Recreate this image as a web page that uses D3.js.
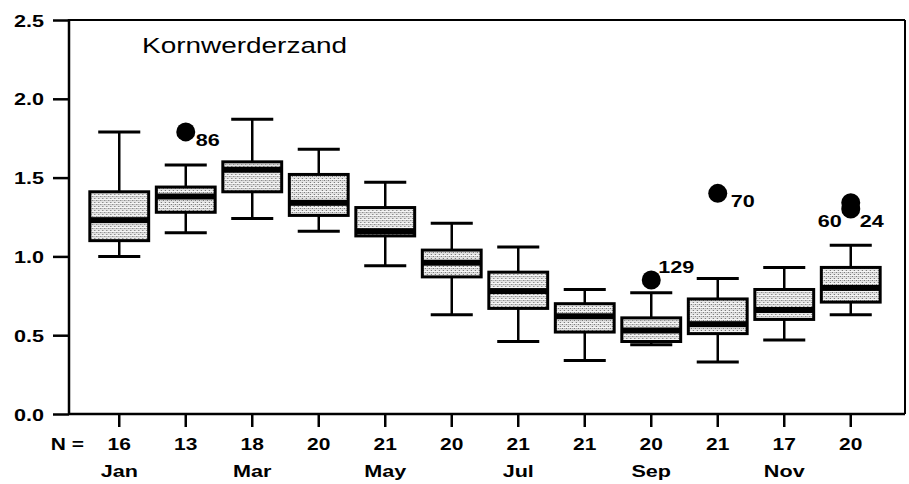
<!DOCTYPE html>
<html>
<head>
<meta charset="utf-8">
<script src="https://cdn.jsdelivr.net/npm/d3@7"></script>
<style>
  html, body { margin: 0; padding: 0; background: #fff; }
  svg { display: block; }
  text { font-family: "Liberation Sans", Arial, sans-serif; fill: #000; }
</style>
</head>
<body>
<svg id="chart" width="909" height="484"></svg>
<script>
// ---- data ----
const months      = ["Jan","Feb","Mar","Apr","May","Jun","Jul","Aug","Sep","Oct","Nov","Dec"];
const monthLabels = ["Jan","","Mar","","May","","Jul","","Sep","","Nov",""];
const nCounts     = [16, 13, 18, 20, 21, 20, 21, 21, 20, 21, 17, 20];
const whiskerLow  = [1.00, 1.15, 1.24, 1.16, 0.94, 0.63, 0.46, 0.34, 0.44, 0.33, 0.47, 0.63];
const q1          = [1.10, 1.28, 1.41, 1.26, 1.13, 0.87, 0.67, 0.52, 0.46, 0.51, 0.60, 0.71];
const medians     = [1.23, 1.38, 1.55, 1.34, 1.16, 0.96, 0.78, 0.62, 0.53, 0.57, 0.66, 0.80];
const q3          = [1.41, 1.44, 1.60, 1.52, 1.31, 1.04, 0.90, 0.70, 0.61, 0.73, 0.79, 0.93];
const whiskerHigh = [1.79, 1.58, 1.87, 1.68, 1.47, 1.21, 1.06, 0.79, 0.77, 0.86, 0.93, 1.07];
const outlierMonth = ["Feb", "Sep", "Oct", "Dec", "Dec"];
const outlierValue = [1.79, 0.85, 1.40, 1.34, 1.30];
const outlierLabel = ["86", "129", "70", "24", "60"];
const yTicks = [0, 0.5, 1.0, 1.5, 2.0, 2.5];
const title = "Kornwerderzand";

(function () {
// ---- layout ----
const svg = d3.select("#chart");
const pLeft = 69, pRight = 905, pTop = 20, pBottom = 414;
const STRETCH = 1.27;

const x = d3.scaleBand().domain(months).range([86, 884]).paddingInner(0.07).paddingOuter(0.035);
const y = d3.scaleLinear().domain([0, 2.5]).range([pBottom, pTop]);

// stipple pattern
const defs = svg.append("defs");
const pat = defs.append("pattern").attr("id", "stip").attr("patternUnits", "userSpaceOnUse")
  .attr("width", 4).attr("height", 4);
pat.append("rect").attr("width", 4).attr("height", 4).attr("fill", "#e4e4e4");
pat.append("rect").attr("x", 0).attr("y", 0).attr("width", 1).attr("height", 1).attr("fill", "#666");
pat.append("rect").attr("x", 2).attr("y", 2).attr("width", 1).attr("height", 1).attr("fill", "#666");
pat.append("rect").attr("x", 2).attr("y", 0).attr("width", 1).attr("height", 1).attr("fill", "#aaa");
pat.append("rect").attr("x", 0).attr("y", 3).attr("width", 4).attr("height", 1).attr("fill", "#f6f6f6");

// frame
svg.append("line").attr("x1", pLeft).attr("x2", pRight).attr("y1", pTop).attr("y2", pTop)
  .attr("stroke", "#000").attr("stroke-width", 2);
svg.append("line").attr("x1", pRight).attr("x2", pRight).attr("y1", pTop).attr("y2", pBottom)
  .attr("stroke", "#000").attr("stroke-width", 2);

// y axis
const yAxis = svg.append("g").attr("transform", `translate(${pLeft},0)`)
  .call(d3.axisLeft(y).tickValues(yTicks).tickFormat(d3.format(".1f")).tickSize(16).tickPadding(9));
yAxis.select(".domain").remove();
yAxis.selectAll(".tick line").attr("stroke", "#000").attr("stroke-width", 2.5);
yAxis.selectAll(".tick text").attr("font-size", 17).attr("font-weight", "bold")
  .attr("font-family", "Liberation Sans, Arial, sans-serif").attr("dy", "0.36em");
svg.append("line").attr("x1", pLeft).attr("x2", pLeft).attr("y1", pTop - 1).attr("y2", pBottom + 1)
  .attr("stroke", "#000").attr("stroke-width", 2.5);

// x axis (N counts)
const xAxis = svg.append("g").attr("transform", `translate(0,${pBottom})`)
  .call(d3.axisBottom(x).tickSize(13).tickPadding(11).tickFormat((d, i) => nCounts[i]));
xAxis.select(".domain").remove();
xAxis.selectAll(".tick line").attr("stroke", "#000").attr("stroke-width", 2.5);
xAxis.selectAll(".tick text").attr("font-size", 16.5).attr("font-weight", "bold")
  .attr("font-family", "Liberation Sans, Arial, sans-serif");
svg.append("line").attr("x1", pLeft).attr("x2", pRight).attr("y1", pBottom).attr("y2", pBottom)
  .attr("stroke", "#000").attr("stroke-width", 2.5);

// month labels row
const mAxis = svg.append("g").attr("transform", `translate(0,${pBottom + 43})`)
  .call(d3.axisBottom(x).tickSize(0).tickPadding(8).tickFormat((d, i) => monthLabels[i]));
mAxis.select(".domain").remove();
mAxis.selectAll(".tick text").attr("font-size", 17).attr("font-weight", "bold")
  .attr("font-family", "Liberation Sans, Arial, sans-serif");

svg.append("text").attr("x", 84).attr("y", 450).attr("text-anchor", "end")
  .attr("font-size", 16.5).attr("font-weight", "bold").text("N =");

// title
svg.append("text").attr("x", 142).attr("y", 53).attr("font-size", 22).text(title);

// boxes
const bw = x.bandwidth();
const boxes = svg.append("g").selectAll("g").data(months).join("g")
  .attr("transform", d => `translate(${x(d)},0)`);
const cx = bw / 2, capW = bw * 0.68;
boxes.append("line").attr("x1", cx).attr("x2", cx)
  .attr("y1", (d, i) => y(whiskerHigh[i])).attr("y2", (d, i) => y(q3[i]))
  .attr("stroke", "#000").attr("stroke-width", 2.5);
boxes.append("line").attr("x1", cx).attr("x2", cx)
  .attr("y1", (d, i) => y(q1[i])).attr("y2", (d, i) => y(whiskerLow[i]))
  .attr("stroke", "#000").attr("stroke-width", 2.5);
boxes.append("line").attr("x1", cx - capW / 2).attr("x2", cx + capW / 2)
  .attr("y1", (d, i) => y(whiskerHigh[i])).attr("y2", (d, i) => y(whiskerHigh[i]))
  .attr("stroke", "#000").attr("stroke-width", 3);
boxes.append("line").attr("x1", cx - capW / 2).attr("x2", cx + capW / 2)
  .attr("y1", (d, i) => y(whiskerLow[i])).attr("y2", (d, i) => y(whiskerLow[i]))
  .attr("stroke", "#000").attr("stroke-width", 3);
boxes.append("rect").attr("x", 1.5).attr("width", bw - 3)
  .attr("y", (d, i) => y(q3[i])).attr("height", (d, i) => y(q1[i]) - y(q3[i]))
  .attr("fill", "url(#stip)").attr("stroke", "#000").attr("stroke-width", 3);
boxes.append("rect").attr("x", 1.5).attr("width", bw - 3)
  .attr("y", (d, i) => Math.max(y(medians[i]) - 3, y(q3[i])))
  .attr("height", (d, i) => Math.min(6, y(q1[i]) - Math.max(y(medians[i]) - 3, y(q3[i]))))
  .attr("fill", "#000");

// outliers
const placement = {
  "86":  { dx: 10, dy: 14, anchor: "start" },
  "129": { dx: 7,  dy: -7, anchor: "start" },
  "70":  { dx: 13, dy: 14, anchor: "start" },
  "24":  { dx: 9,  dy: 24, anchor: "start" },
  "60":  { dx: -9, dy: 18, anchor: "end" }
};
const out = svg.append("g").selectAll("g").data(outlierValue).join("g")
  .attr("transform", (v, i) => `translate(${x(outlierMonth[i]) + bw / 2},${y(v)})`);
out.append("circle").attr("r", 9.5).attr("fill", "#000");
out.append("text")
  .attr("x", (v, i) => placement[outlierLabel[i]].dx)
  .attr("y", (v, i) => placement[outlierLabel[i]].dy)
  .attr("text-anchor", (v, i) => placement[outlierLabel[i]].anchor)
  .attr("font-size", 17).attr("font-weight", "bold")
  .text((v, i) => outlierLabel[i]);

// horizontal stretch of all text to match the reference's wide lettering
svg.selectAll("text").each(function () {
  const len = this.getComputedTextLength();
  if (len > 0) {
    d3.select(this).attr("textLength", len * STRETCH).attr("lengthAdjust", "spacingAndGlyphs");
  }
});
})();
</script>
</body>
</html>
